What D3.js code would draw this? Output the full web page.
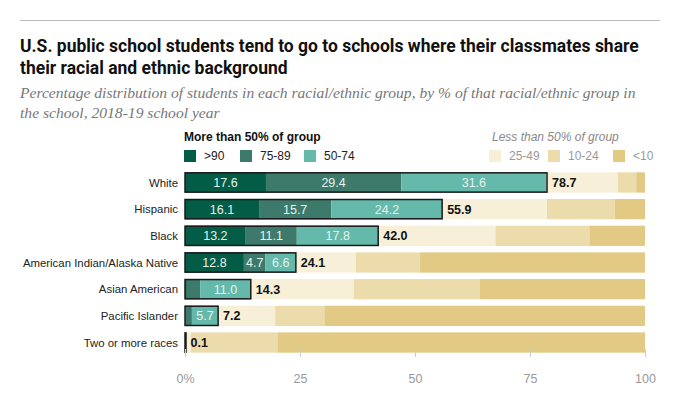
<!DOCTYPE html>
<html>
<head>
<meta charset="utf-8">
<script src="https://cdn.jsdelivr.net/npm/d3@7"></script>
<style>
  body { margin: 0; background: #fff; }
  svg { display: block; }
  .title { font-family: "Roboto", "Liberation Sans", sans-serif; font-weight: bold; font-size: 17.5px; fill: #111; }
  .subtitle { font-family: "Liberation Serif", "DejaVu Serif", serif; font-style: italic; font-size: 15.6px; fill: #777; }
  .cat { font-family: "Liberation Sans", Arial, sans-serif; font-size: 11.4px; fill: #222; }
  .seg { font-family: "Liberation Sans", Arial, sans-serif; font-size: 12.5px; fill: #e6f2ee; }
  .total { font-family: "Liberation Sans", Arial, sans-serif; font-size: 12.5px; font-weight: bold; fill: #111; }
  .leg { font-family: "Liberation Sans", Arial, sans-serif; font-size: 12px; }
  .tick text { font-family: "Liberation Sans", Arial, sans-serif; font-size: 12.5px; fill: #999; }
</style>
</head>
<body>
<div id="vis-container"></div>
<script>
// Data
var groups = ["White", "Hispanic", "Black", "American Indian/Alaska Native", "Asian American", "Pacific Islander", "Two or more races"];
var bins = [">90", "75-89", "50-74", "25-49", "10-24", "<10"];
var over90 = [17.6, 16.1, 13.2, 12.8, 0.4, 0.1, 0];
var from75to89 = [29.4, 15.7, 11.1, 4.7, 2.9, 1.4, 0];
var from50to74 = [31.6, 24.2, 17.8, 6.6, 11.0, 5.7, 0.1];
var from25to49 = [15.5, 22.7, 25.4, 13.0, 22.4, 12.4, 1.2];
var from10to24 = [4.0, 14.7, 20.4, 14.0, 27.4, 10.7, 18.8];
var under10 = [1.9, 6.6, 12.1, 48.9, 35.9, 69.7, 79.9];
var majorityTotals = ["78.7", "55.9", "42.0", "24.1", "14.3", "7.2", "0.1"];
var segLabelShown = [[true, true, true], [true, true, true], [true, true, true], [true, true, true], [false, false, true], [false, false, true], [false, false, false]];
var xTicks = [0, 25, 50, 75, 100];

var colors = ["#035c46", "#3d7a6b", "#64b9aa", "#f7efd8", "#ecdcac", "#e2ca85"];

var width = 681, height = 397;
var margins = { left: 185, right: 36, top: 172, bottom: 40 };
var visWidth = width - margins.left - margins.right;

var svg = d3.select("#vis-container").append("svg").attr("width", width).attr("height", height);

// header
svg.append("line").attr("x1", 20).attr("x2", 660).attr("y1", 20.5).attr("y2", 20.5)
    .attr("stroke", "#bbb").attr("stroke-width", 1);
svg.append("text").attr("class", "title").attr("x", 20).attr("y", 52)
    .text("U.S. public school students tend to go to schools where their classmates share");
svg.append("text").attr("class", "title").attr("x", 20).attr("y", 74)
    .text("their racial and ethnic background");
svg.append("text").attr("class", "subtitle").attr("x", 20).attr("y", 98)
    .text("Percentage distribution of students in each racial/ethnic group, by % of that racial/ethnic group in");
svg.append("text").attr("class", "subtitle").attr("x", 20).attr("y", 118)
    .text("the school, 2018-19 school year");

// build stacked rows
var rows = groups.map(function (g, i) {
    return { group: g, values: [over90[i], from75to89[i], from50to74[i], from25to49[i], from10to24[i], under10[i]] };
});
var stack = d3.stack().keys(d3.range(6)).value(function (d, k) { return d.values[k]; });
var series = stack(rows);

var x = d3.scaleLinear().domain([0, 100]).range([margins.left, margins.left + visWidth]);
var y = d3.scaleBand().domain(groups).range([margins.top - 1, 354]).paddingInner(0.24).paddingOuter(0.05);

var layers = svg.append("g").selectAll("g").data(series).join("g")
    .attr("fill", function (d, k) { return colors[k]; });
layers.selectAll("rect").data(function (d) { return d; }).join("rect")
    .attr("x", function (d) { return x(d[0]); })
    .attr("width", function (d) { return Math.max(0, x(d[1]) - x(d[0])); })
    .attr("y", function (d) { return y(d.data.group); })
    .attr("height", y.bandwidth());

// outline of the majority part (>50%)
svg.append("g").selectAll("rect").data(rows).join("rect")
    .attr("x", x(0))
    .attr("y", function (d) { return y(d.group) + 0.5; })
    .attr("width", function (d, i) { return Math.max(1, x(+majorityTotals[i]) - x(0)); })
    .attr("height", y.bandwidth() - 1)
    .attr("fill", "none")
    .attr("stroke", "#1a1a1a")
    .attr("stroke-width", 1.5);

// segment labels
series.slice(0, 3).forEach(function (s, k) {
    svg.append("g").selectAll("text").data(s).join("text")
        .filter(function (d, i) { return segLabelShown[i][k]; })
        .attr("class", "seg")
        .attr("x", function (d) { return (x(d[0]) + x(d[1])) / 2; })
        .attr("y", function (d) { return y(d.data.group) + y.bandwidth() / 2; })
        .attr("dy", "0.36em")
        .attr("text-anchor", "middle")
        .text(function (d) { return d.data.values[k].toFixed(1); });
});

// majority totals
svg.append("g").selectAll("text").data(rows).join("text")
    .attr("class", "total")
    .attr("x", function (d, i) { return x(+majorityTotals[i]) + 5; })
    .attr("y", function (d) { return y(d.group) + y.bandwidth() / 2; })
    .attr("dy", "0.36em")
    .text(function (d, i) { return majorityTotals[i]; });

// category labels
svg.append("g").selectAll("text").data(groups).join("text")
    .attr("class", "cat")
    .attr("x", margins.left - 7)
    .attr("y", function (d) { return y(d) + y.bandwidth() / 2; })
    .attr("dy", "0.36em")
    .attr("text-anchor", "end")
    .text(function (d) { return d; });

// x axis
var axis = svg.append("g").attr("transform", "translate(0,349)")
    .call(d3.axisBottom(x).tickValues(xTicks).tickSize(8).tickPadding(17)
        .tickFormat(function (d) { return d === 0 ? "0%" : d; }));
axis.select(".domain").remove();
axis.selectAll(".tick line").attr("stroke", "#ccc");

// legend
var legendY = 150;
svg.append("text").attr("class", "leg").attr("x", 184).attr("y", 141)
    .attr("font-weight", "bold").attr("fill", "#111").text("More than 50% of group");
svg.append("text").attr("class", "leg").attr("x", 492).attr("y", 141)
    .attr("font-style", "italic").attr("fill", "#888").text("Less than 50% of group");
var legendX = [184, 240, 304, 489, 548, 613];
var leg = svg.append("g").selectAll("g").data(bins).join("g")
    .attr("transform", function (d, k) { return "translate(" + legendX[k] + "," + legendY + ")"; });
leg.append("rect").attr("width", 12).attr("height", 12)
    .attr("fill", function (d, k) { return colors[k]; });
leg.append("text").attr("class", "leg").attr("x", 20).attr("y", 6).attr("dy", "0.36em")
    .attr("fill", function (d, k) { return k < 3 ? "#222" : "#999"; })
    .text(function (d) { return d; });
</script>
</body>
</html>
